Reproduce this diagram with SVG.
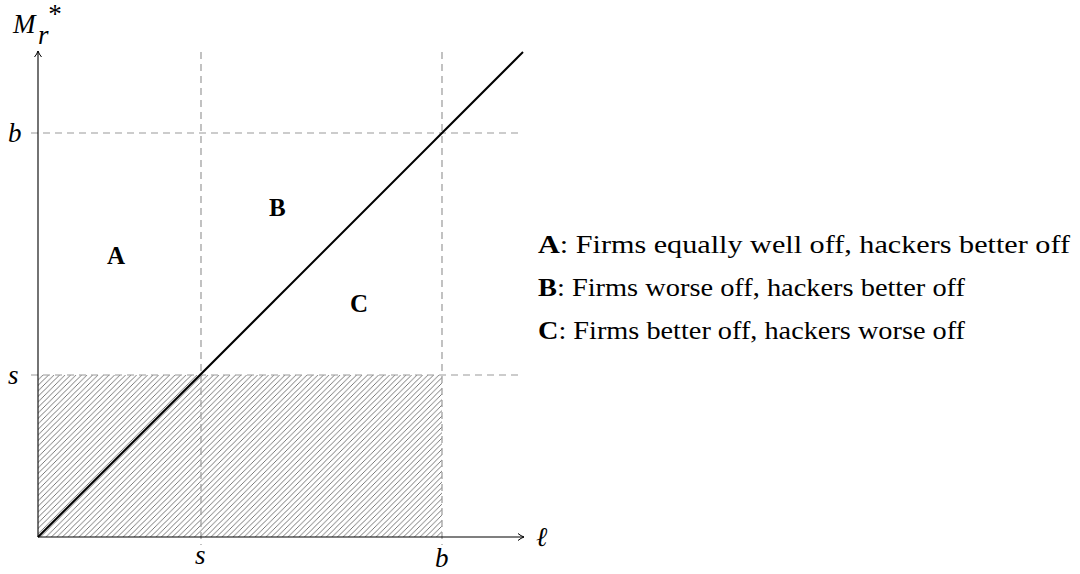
<svg xmlns="http://www.w3.org/2000/svg" width="1080" height="574" viewBox="0 0 1080 574">
<style>
.dash{stroke:#999;stroke-width:1.2;stroke-dasharray:7,5;fill:none}
.ax{stroke:#000;stroke-width:1.1;fill:none}
.mi{font-family:"Liberation Serif",serif;font-style:italic;font-size:27px;fill:#000}
.bl{font-family:"Liberation Serif",serif;font-weight:bold;font-size:25px;fill:#000}
.tx{font-family:"Liberation Serif",serif;font-size:25px;fill:#000}
</style>
<defs>
<pattern id="hatch" patternUnits="userSpaceOnUse" width="5.5" height="5.5">
<path d="M-1,6.5 L6.5,-1 M-1,1 L1,-1 M4.5,6.5 L6.5,4.5" stroke="#555" stroke-width="0.8"/>
</pattern>
<marker id="arr" markerWidth="10" markerHeight="10" refX="7" refY="5" orient="auto" markerUnits="userSpaceOnUse">
<path d="M1,1.5 Q4,4 7,5 Q4,6 1,8.5" fill="none" stroke="#000" stroke-width="1"/>
</marker>
</defs>
<g id="region-shade">
<rect x="38" y="375" width="404" height="162" fill="url(#hatch)"/>
</g>
<g id="gridlines">
<line class="dash" x1="201" y1="52" x2="201" y2="545"/>
<line class="dash" x1="442" y1="52" x2="442" y2="545"/>
<line class="dash" x1="31" y1="133" x2="523" y2="133"/>
<line class="dash" x1="31" y1="375" x2="523" y2="375"/>
</g>
<g id="axes">
<line class="ax" x1="38" y1="537" x2="524" y2="537" marker-end="url(#arr)"/>
<line class="ax" x1="38" y1="537" x2="38" y2="51" marker-end="url(#arr)"/>
</g>
<g id="connectors">
<line x1="38" y1="537" x2="523" y2="52" stroke="#000" stroke-width="2"/>
</g>
<g id="labels">
<text class="mi" x="13" y="33">M</text>
<text class="mi" x="38" y="44" font-size="18px">r</text>
<text class="mi" x="47" y="23" font-size="16px" font-style="normal">*</text>
<text class="mi" x="8" y="142">b</text>
<text class="mi" x="8" y="384">s</text>
<text class="mi" x="195" y="564">s</text>
<text class="mi" x="435" y="567">b</text>
<text class="mi" x="536" y="546">ℓ</text>
</g>
<g id="node-A"><text class="bl" x="107" y="264">A</text></g>
<g id="node-B"><text class="bl" x="269" y="216">B</text></g>
<g id="node-C"><text class="bl" x="350" y="312">C</text></g>
<g id="legend">
<text class="tx" x="538" y="253" textLength="532" lengthAdjust="spacingAndGlyphs"><tspan font-weight="bold">A</tspan>: Firms equally well off, hackers better off</text>
<text class="tx" x="538" y="296" textLength="427" lengthAdjust="spacingAndGlyphs"><tspan font-weight="bold">B</tspan>: Firms worse off, hackers better off</text>
<text class="tx" x="538" y="339" textLength="427" lengthAdjust="spacingAndGlyphs"><tspan font-weight="bold">C</tspan>: Firms better off, hackers worse off</text>
</g>
</svg>
